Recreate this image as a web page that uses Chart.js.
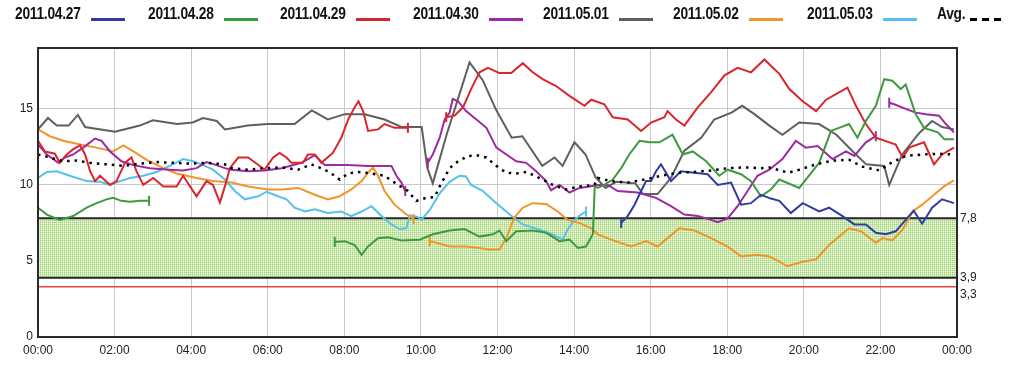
<!DOCTYPE html>
<html>
<head>
<meta charset="utf-8">
<script src="https://cdn.jsdelivr.net/npm/chart.js@4.4.0/dist/chart.umd.min.js"></script>
<style>
html,body{margin:0;padding:0;background:#fff;}
#wrap{position:relative;width:1024px;height:373px;overflow:hidden;}
#c{position:absolute;left:0;top:0;}
#legend{position:absolute;left:0;top:0;width:1024px;height:30px;font-family:"Liberation Sans",Arial,sans-serif;}
.lt{position:absolute;top:6px;font-size:16px;line-height:16px;font-weight:bold;color:#111;white-space:nowrap;transform:scaleX(.86);transform-origin:left top;letter-spacing:-0.3px;}
.ls{position:absolute;top:18px;height:3px;width:34px;}
</style>
</head>
<body>
<div id="wrap">
  <canvas id="c" width="1024" height="373"></canvas>
  <div id="legend"></div>
</div>
<script>
(function(){
'use strict';

// nombres de series y etiquetas
const seriesNames = ['2011.04.27','2011.04.28','2011.04.29','2011.04.30','2011.05.01','2011.05.02','2011.05.03','Avg.'];
const xTickLabels = ['00:00','02:00','04:00','06:00','08:00','10:00','12:00','14:00','16:00','18:00','20:00','22:00','00:00'];
const yTicks = [0,5,10,15];
const limits = [7.8, 3.9, 3.3];
const limitLabels = ['7,8','3,9','3,3'];

// [hora, valor]; null = hueco
const d0427 = [[15.23,7.5],[15.40,7.95],[15.58,8.7],[15.75,9.6],[15.88,10.25],[16.01,10.25],[16.14,10.9],[16.27,11.35],[16.40,10.8],[16.53,10.25],[16.79,10.9],[17.14,10.8],[17.49,10.7],[17.75,10.0],[18.10,10.15],[18.36,8.7],[18.62,8.8],[18.88,9.35],[19.14,9.1],[19.36,8.95],[19.66,8.15],[19.97,8.8],[20.40,8.25],[20.66,8.5],[21.01,7.95],[21.32,7.4],[21.62,7.4],[21.88,6.85],[22.14,6.75],[22.40,6.95],[22.66,7.7],[22.87,8.3],[23.09,7.45],[23.35,8.5],[23.61,9.05],[23.92,8.8]];

const d0428 = [[0,8.5],[0.23,8.05],[0.57,7.7],[0.92,7.95],[1.27,8.5],[1.53,8.8],[1.79,9.05],[1.96,9.15],[2.18,8.95],[2.40,8.9],[2.66,8.95],[2.90,8.95], null,
  [7.75,6.25],[8.01,6.3],[8.27,6.05],[8.45,5.4],[8.62,5.95],[8.88,6.5],[9.14,6.55],[9.49,6.35],[9.97,6.4],[10.31,6.75],[10.75,7.0],[11.14,7.1],[11.53,6.6],[11.88,6.75],[12.05,7.0],[12.23,6.3],[12.49,6.95],[12.92,7.0],[13.27,6.85],[13.62,6.3],[13.88,6.4],[14.10,5.85],[14.31,5.95],[14.49,6.75],[14.54,9.9],[14.62,9.8],[14.79,10.0],[15.01,10.35],[15.23,11.1],[15.44,12.0],[15.71,12.9],[15.97,12.8],[16.23,12.8],[16.57,13.3],[16.84,12.0],[17.10,12.2],[17.45,11.55],[17.79,10.6],[18.01,11.0],[18.36,10.7],[18.62,10.25],[18.88,9.25],[19.14,9.7],[19.36,10.35],[19.88,9.8],[20.40,11.45],[20.71,13.55],[20.92,13.75],[21.18,14.0],[21.40,13.1],[21.62,14.2],[21.88,15.2],[22.10,16.95],[22.31,16.85],[22.53,16.3],[22.66,16.6],[22.92,14.65],[23.14,13.75],[23.50,13.45],[23.67,13.0],[23.92,13.0]];

const d0429 = [[0,12.9],[0.18,12.2],[0.44,12.05],[0.57,11.45],[0.75,12.0],[0.92,12.35],[1.10,12.6],[1.23,12.0],[1.36,10.9],[1.49,10.25],[1.62,10.6],[1.88,10.0],[2.05,10.25],[2.27,11.45],[2.44,11.8],[2.57,10.9],[2.75,10.0],[3.01,10.45],[3.27,9.9],[3.62,9.9],[3.79,10.6],[4.14,9.25],[4.40,10.25],[4.57,10.0],[4.75,8.85],[4.88,9.9],[5.01,11.1],[5.23,11.8],[5.49,11.8],[5.92,11.0],[6.14,11.8],[6.31,12.1],[6.49,11.8],[6.62,11.45],[6.92,11.45],[7.05,12.0],[7.23,12.0],[7.40,11.45],[7.70,12.1],[7.92,13.1],[8.10,14.3],[8.27,15.1],[8.37,15.5],[8.49,14.85],[8.62,13.55],[8.88,13.65],[9.05,14.0],[9.31,13.75],[9.66,13.75], null,
  [10.66,14.45],[10.88,14.55],[11.10,15.1],[11.31,16.3],[11.53,17.4],[11.75,17.7],[12.05,17.35],[12.36,17.35],[12.66,18.0],[12.92,17.4],[13.18,16.95],[13.53,16.5],[13.88,15.85],[14.27,15.2],[14.45,15.6],[14.79,15.3],[15.01,14.45],[15.40,14.3],[15.75,13.55],[16.01,14.1],[16.36,14.45],[16.44,14.85],[16.66,14.3],[16.88,13.9],[17.23,15.1],[17.58,16.1],[17.93,17.2],[18.27,17.7],[18.62,17.4],[18.97,18.25],[19.36,17.3],[19.62,16.3],[19.97,15.5],[20.32,14.85],[20.58,15.6],[21.14,16.4],[21.36,15.2],[21.62,14.0],[21.88,13.1],[22.40,12.65],[22.58,11.8],[22.75,12.45],[23.14,12.8],[23.40,11.35],[23.61,12.0],[23.92,12.45]];

const d0430 = [[0,12.65],[0.23,12.0],[0.53,11.45],[0.70,11.8],[0.92,12.0],[1.18,12.45],[1.49,13.05],[1.66,12.9],[1.88,12.2],[2.18,11.55],[2.49,11.3],[2.92,11.1],[3.44,11.0],[3.79,10.95],[4.14,11.1],[4.40,11.5],[4.66,11.3],[4.88,11.1],[5.05,11.0],[5.49,10.9],[5.92,10.95],[6.36,11.1],[6.88,11.45],[7.23,11.95],[7.49,11.3],[8.10,11.3],[8.62,11.25],[9.23,11.25],[9.36,10.6],[9.49,10.15],[9.59,9.6], null,
  [10.18,11.45],[10.31,12.0],[10.49,13.1],[10.62,14.3],[10.75,14.75],[10.83,15.65],[10.97,15.5],[11.18,14.85],[11.45,14.3],[11.71,13.75],[11.97,12.45],[12.23,12.0],[12.49,11.55],[12.75,11.45],[13.01,10.9],[13.27,10.25],[13.40,9.65],[13.62,10.0],[13.88,9.5],[14.14,9.8],[14.40,9.9],[14.62,10.0],[14.88,10.0],[15.14,9.6],[15.66,9.5],[16.14,9.15],[16.53,8.6],[16.88,8.05],[17.23,7.95],[17.58,7.7],[17.75,7.55],[18.01,7.8],[18.27,8.6],[18.53,9.6],[18.79,10.6],[19.10,11.0],[19.44,11.7],[19.79,12.9],[20.05,12.45],[20.36,12.55],[20.75,11.7],[21.10,12.2],[21.32,11.9],[21.62,12.8],[21.88,13.2], null,
  [22.23,15.4],[22.36,15.3],[22.66,15.0],[22.92,14.75],[23.19,14.65],[23.53,14.55],[23.71,14.0],[23.92,13.45]];

const d0501 = [[0,13.65],[0.26,14.4],[0.49,13.9],[0.8,13.9],[1.04,14.6],[1.23,13.8],[2.01,13.5],[2.66,13.9],[3.0,14.25],[3.63,14.0],[4.04,14.1],[4.31,14.4],[4.67,14.2],[4.88,13.65],[5.48,13.9],[6.0,14.0],[6.7,14.0],[7.15,14.9],[7.57,14.3],[8.01,14.65],[8.53,14.65],[9.05,14.3],[9.5,13.8],[10.02,13.8],[10.17,11.1],[10.31,10.1],[10.67,13.3],[11.27,18.05],[11.61,16.9],[11.97,14.9],[12.37,13.1],[12.65,13.2],[13.17,11.25],[13.49,11.8],[13.7,11.25],[14.01,12.8],[14.3,12.0],[14.56,10.5],[14.82,9.8],[15.1,10.2],[15.6,10.1],[15.8,9.4],[16.18,9.4],[16.54,10.5],[16.88,12.25],[17.32,13.1],[17.66,14.3],[18.11,14.75],[18.39,15.2],[18.71,14.65],[19.1,13.9],[19.44,13.3],[19.88,14.1],[20.4,14.0],[20.85,13.3],[21.26,12.25],[21.63,11.35],[22.1,11.25],[22.23,10.0],[22.57,12.0],[23.01,13.4],[23.35,14.2],[23.61,13.8],[23.92,13.65]];

const d0502 = [[0,13.65],[0.31,13.2],[0.66,12.9],[1.10,12.65],[1.53,12.45],[1.96,12.2],[2.23,12.6],[2.49,12.2],[2.84,11.65],[3.27,11.1],[3.62,10.75],[4.14,10.45],[4.57,10.25],[5.05,10.15],[5.49,9.9],[6.01,9.7],[6.36,9.7],[6.79,9.8],[7.23,9.35],[7.57,9.05],[7.88,9.25],[8.18,9.7],[8.45,10.25],[8.62,10.8],[8.75,11.15],[8.88,10.6],[9.05,9.6],[9.31,8.7],[9.57,8.15],[9.81,7.75], null,
  [10.23,6.3],[10.40,6.2],[10.75,5.95],[11.18,5.95],[11.53,5.85],[11.79,5.75],[12.05,5.75],[12.23,6.5],[12.44,7.85],[12.66,8.5],[12.92,8.8],[13.27,8.75],[13.57,8.25],[13.83,7.7],[14.14,7.5],[14.45,7.15],[14.62,6.75],[14.97,6.4],[15.49,5.95],[15.88,6.3],[16.18,5.95],[16.44,6.5],[16.75,7.15],[17.14,7.0],[17.58,6.5],[18.01,5.95],[18.36,5.3],[18.79,5.4],[19.10,5.3],[19.36,4.95],[19.57,4.65],[19.97,4.95],[20.32,5.1],[20.66,6.05],[20.92,6.6],[21.18,7.15],[21.49,6.95],[21.88,6.2],[22.06,6.5],[22.31,6.35],[22.58,7.05],[22.84,8.25],[23.09,8.7],[23.40,9.35],[23.66,9.9],[23.92,10.3]];

const d0503 = [[0,10.45],[0.23,10.85],[0.49,10.9],[0.83,10.6],[1.27,10.25],[1.62,10.2],[1.88,10.0],[2.14,10.25],[2.40,10.45],[2.75,10.6],[3.10,10.85],[3.44,11.25],[3.79,11.7],[4.05,11.55],[4.31,11.3],[4.57,11.0],[4.88,10.35],[5.14,9.6],[5.40,9.05],[5.75,9.25],[5.97,9.55],[6.27,9.25],[6.49,9.05],[6.70,8.5],[6.97,8.25],[7.23,8.4],[7.57,8.15],[7.92,8.25],[8.18,7.95],[8.45,8.25],[8.71,8.6],[8.97,7.95],[9.23,7.4],[9.44,7.1],[9.62,7.15],[9.71,8.0],[9.91,7.9],[10.01,7.7],[10.23,8.35],[10.49,9.45],[10.75,10.2],[11.01,10.6],[11.18,10.55],[11.31,10.0],[11.62,9.6],[11.97,8.8],[12.32,8.05],[12.66,7.4],[13.10,7.05],[13.44,6.75],[13.70,6.4],[13.83,7.05],[14.01,7.7],[14.18,8.05],[14.31,8.25]];

const dAvg = [[0,12.0],[0.31,11.8],[0.66,11.55],[1.01,11.6],[1.36,11.45],[1.79,11.35],[2.23,11.25],[2.66,11.4],[3.10,11.5],[3.53,11.45],[3.97,11.4],[4.40,11.45],[4.88,11.35],[5.05,11.1],[5.49,11.0],[5.92,11.1],[6.36,11.15],[6.79,11.0],[7.14,11.35],[7.49,11.0],[7.75,10.6],[7.88,10.35],[8.10,10.75],[8.36,10.85],[8.71,10.75],[9.05,10.6],[9.40,10.0],[9.66,9.6],[9.88,8.95],[10.14,9.15],[10.36,9.2],[10.49,9.9],[10.75,11.1],[10.97,11.55],[11.23,11.9],[11.45,11.95],[11.71,11.8],[11.97,11.25],[12.23,10.8],[12.49,10.75],[12.75,10.85],[13.10,10.45],[13.44,10.0],[13.79,9.7],[14.14,9.9],[14.53,10.0],[14.62,10.45],[14.97,10.25],[15.40,10.15],[15.84,10.35],[16.27,10.6],[16.71,10.8],[17.14,10.85],[17.58,10.95],[18.01,11.1],[18.45,11.15],[18.88,11.1],[19.10,11.15],[19.60,10.8],[19.88,11.0],[20.32,11.35],[20.75,11.6],[21.18,11.65],[21.53,11.2],[21.97,10.95],[22.31,11.5],[22.66,11.9],[23.09,12.0],[23.53,12.05],[23.92,12.0]];

const seriesData = [d0427, d0428, d0429, d0430, d0501, d0502, d0503, dAvg];
const colors = ['#2f3e9e','#3f9a3f','#d9262c','#9b2aa3','#5f5f5f','#f29428','#56c1ea','#000000'];

const FONT = '"Liberation Sans", Arial, sans-serif';

function toPoints(arr){
  return arr.map((p,i) => p === null ? {x: arr[i-1][0] + 0.01, y: null} : {x: p[0], y: p[1]});
}
// marcas verticales al inicio/fin de cada tramo
function tickRadii(arr){
  return arr.map((p,i) => {
    if (!p) return 0;
    const prev = arr[i-1], next = arr[i+1];
    const isStart = i === 0 ? p[0] > 0.05 : prev === null;
    const isEnd = i === arr.length - 1 ? p[0] < 23.9 : next === null;
    return (isStart || isEnd) ? 5 : 0;
  });
}

// legend html
const leg = document.getElementById('legend');
const legLeft = [15,148,280,413,543,673,807,937];
seriesNames.forEach((n,i) => {
  const t = document.createElement('div');
  t.className = 'lt'; t.textContent = n; t.style.left = legLeft[i] + 'px';
  leg.appendChild(t);
  const s = document.createElement('div');
  s.className = 'ls';
  if (i === seriesNames.length - 1) {
    s.style.left = '970px';
    s.style.width = '33px';
    s.style.background = 'repeating-linear-gradient(90deg,#000 0 7px,transparent 7px 12px)';
  } else {
    s.style.left = (legLeft[i] + 76) + 'px';
    s.style.background = colors[i];
  }
  leg.appendChild(s);
});

// patrón verde de la franja
const pc = document.createElement('canvas'); pc.width = 2; pc.height = 2;
const pctx = pc.getContext('2d');
pctx.fillStyle = '#a3d67a'; pctx.fillRect(0,0,2,2);
pctx.fillStyle = '#cbe8ae'; pctx.fillRect(1,0,1,1); pctx.fillRect(0,1,1,1);
pctx.fillStyle = '#eef8e4'; pctx.fillRect(1,1,1,1);

const bandPlugin = {
  id: 'band',
  beforeDatasetsDraw(chart){
    const {ctx, chartArea: a, scales: {y}} = chart;
    const y1 = y.getPixelForValue(limits[0]), y2 = y.getPixelForValue(limits[1]), y3 = y.getPixelForValue(limits[2]);
    ctx.save();
    ctx.fillStyle = ctx.createPattern(pc, 'repeat');
    ctx.fillRect(a.left, y1, a.right - a.left, y2 - y1);
    ctx.lineWidth = 2;
    ctx.strokeStyle = '#262626';
    ctx.beginPath();
    ctx.moveTo(a.left, y1); ctx.lineTo(a.right, y1);
    ctx.moveTo(a.left, y2); ctx.lineTo(a.right, y2);
    ctx.stroke();
    ctx.strokeStyle = '#e8453c';
    ctx.lineWidth = 1.5;
    ctx.beginPath(); ctx.moveTo(a.left, y3); ctx.lineTo(a.right, y3); ctx.stroke();
    ctx.restore();
  },
  afterDatasetsDraw(chart){
    const {ctx, chartArea: a, scales: {y}} = chart;
    ctx.save();
    ctx.strokeStyle = '#2a2a2a';
    ctx.lineWidth = 2;
    ctx.strokeRect(a.left, a.top, a.right - a.left, a.bottom - a.top);
    ctx.fillStyle = '#222';
    ctx.font = '12px ' + FONT;
    ctx.textAlign = 'left';
    ctx.textBaseline = 'middle';
    limits.forEach((v,i) => {
      const off = i === 2 ? 8 : 0;
      ctx.fillText(limitLabels[i], a.right + 3, y.getPixelForValue(v) + off);
    });
    ctx.restore();
  }
};

const datasets = seriesData.map((d,i) => {
  const isAvg = i === seriesData.length - 1;
  return {
    label: seriesNames[i],
    data: toPoints(d),
    borderColor: colors[i],
    backgroundColor: colors[i],
    borderWidth: isAvg ? 2.5 : 2,
    borderDash: isAvg ? [2.5, 5] : [],
    pointStyle: 'line',
    rotation: 90,
    pointRadius: isAvg ? 0 : tickRadii(d),
    pointBorderWidth: 2,
    pointBorderColor: colors[i],
    pointHoverRadius: 0,
    tension: 0,
    spanGaps: false,
    order: isAvg ? 0 : 1
  };
});

new Chart(document.getElementById('c'), {
  type: 'line',
  data: { datasets },
  plugins: [bandPlugin],
  options: {
    responsive: false,
    animation: false,
    events: [],
    devicePixelRatio: 1,
    layout: { padding: { top: 48, right: 67, left: 0, bottom: 0 } },
    plugins: { legend: { display: false }, tooltip: { enabled: false } },
    scales: {
      x: {
        type: 'linear', min: 0, max: 24,
        ticks: { stepSize: 2, color: '#222', padding: 6, font: { size: 12, family: FONT }, maxRotation: 0,
          callback: v => xTickLabels[Math.round(v / 2)] },
        grid: { color: '#c8c8c8', drawTicks: false },
        border: { display: false },
        afterFit(s){ s.height = 36; }
      },
      y: {
        min: 0, max: 19,
        afterBuildTicks(s){ s.ticks = yTicks.map(v => ({ value: v })); },
        ticks: { color: '#222', padding: 5, font: { size: 12, family: FONT } },
        grid: { color: '#c8c8c8', drawTicks: false },
        border: { display: false },
        afterFit(s){ s.width = 38; }
      }
    }
  }
});

})();
</script>
</body>
</html>
